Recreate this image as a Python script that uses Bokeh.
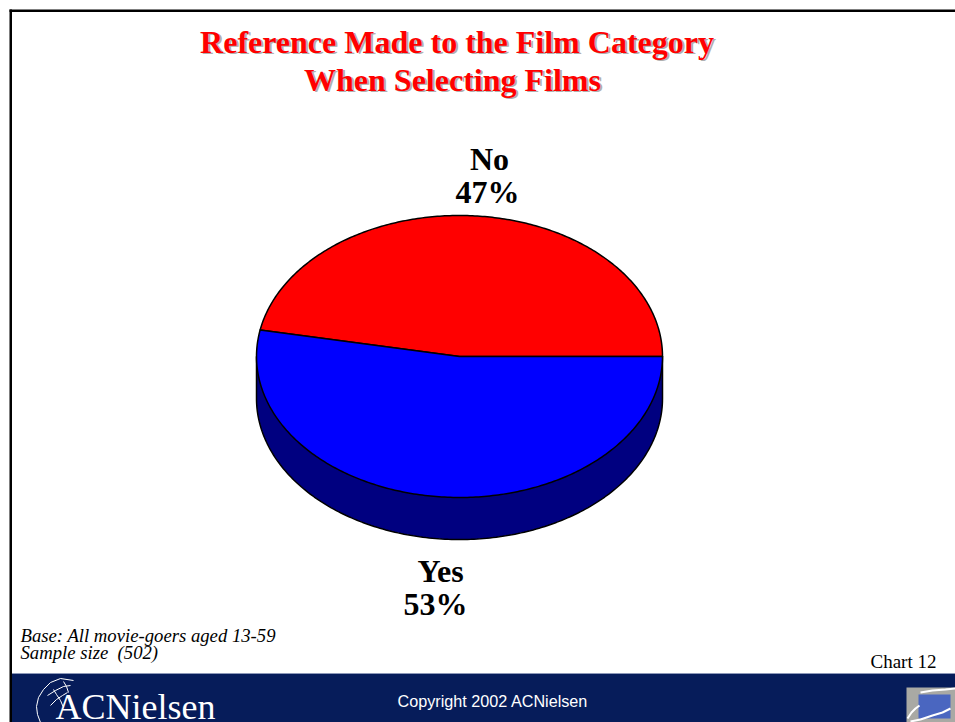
import numpy as np
from bokeh.plotting import figure
from bokeh.embed import file_html
from bokeh.resources import INLINE
from bokeh.core.properties import value

categories = ["No", "Yes"]
shares = [47, 53]
slice_colors = ["#ff0000", "#0000ff"]
wall_color = "#000080"
title_lines = ["Reference Made to the Film Category", "When Selecting Films"]
notes = ["Base: All movie-goers aged 13-59", "Sample size\u00a0 (502)"]
chart_tag = "Chart 12"
copyright_text = "Copyright 2002 ACNielsen"
logo_text = "ACNielsen"

W, H = 955, 722
p = figure(width=W, height=H, x_range=(0, 955), y_range=(722, 0),
           output_backend="svg", toolbar_location=None, min_border=0,
           outline_line_color=None, background_fill_color="white")
p.axis.visible = False
p.grid.visible = False

SERIF = value("Liberation Serif")
SANS = value("Liberation Sans")

def txt(x, y, s, size, color="black", font=SERIF, style="normal", align="left", base="alphabetic"):
    p.text([x], [y], text=[s], text_font=font, text_font_size=f"{size}px", text_font_style=style,
           text_color=color, text_align=align, text_baseline=base)

# page frame and footer band
p.quad(left=[9], right=[11.5], top=[9], bottom=[722], color="black", line_color=None)
p.quad(left=[9], right=[955], top=[9], bottom=[11.5], color="black", line_color=None)
p.quad(left=[11.5], right=[955], top=[673], bottom=[722], color="#061c5a", line_color=None)
p.line([11.5, 955], [673, 673], line_color="#8c98b8", line_width=1)

# title
for s, x0, y in zip(title_lines, [456.5, 452], [41, 79]):
    txt(x0 + 2, y + 1.5, s, 32, color="#b0b0b0", style="bold", align="center")
    txt(x0, y, s, 32, color="#ff0000", style="bold", align="center")

# pie
cx, cy, rx, ry, depth = 459, 356, 203, 141, 42
fractions = np.array(shares) / sum(shares)
edges = np.concatenate([[0], np.cumsum(fractions)]) * 2 * np.pi

t = np.linspace(np.pi, 2 * np.pi, 200)
wx = cx + rx * np.cos(t)
wy = cy - ry * np.sin(t) + depth
wall_x = np.concatenate([[cx - rx], wx, [cx + rx]])
wall_y = np.concatenate([[cy], wy, [cy]])
p.patch(wall_x, wall_y, fill_color=wall_color, line_color="black", line_width=1.5)

for i, cat in enumerate(categories):
    t = np.linspace(edges[i], edges[i + 1], 240)
    x = np.concatenate([[cx], cx + rx * np.cos(t), [cx]])
    y = np.concatenate([[cy], cy - ry * np.sin(t), [cy]])
    p.patch(x, y, fill_color=slice_colors[i], line_color="black", line_width=1.5, line_join="round")

# slice labels
label_pos = [(489, 158, 487, 191), (440, 570, 435, 603)]
for cat, share, (lx, y1, px, y2) in zip(categories, shares, label_pos):
    txt(lx, y1, cat, 32, style="bold", align="center")
    txt(px, y2, f"{share}%", 32, style="bold", align="center")

# notes
txt(20, 635, notes[0], 18.7, style="italic")
txt(20, 652, notes[1], 18.7, style="italic")
txt(870, 661, chart_tag, 19)
txt(397, 700, copyright_text, 16.2, color="white", font=SANS)

# logo
txt(55, 706, logo_text, 36, color="white")
globe_lines = [
    ([73, 60, 50, 43, 38, 36, 37, 40], [680, 678, 682, 689, 697, 706, 714, 722]),
    ([47, 55, 63, 70], [695, 690, 686, 685]),
    ([50, 56, 62, 67], [705, 699, 695, 692]),
    ([53, 56, 60, 63], [689, 694, 700, 707]),
    ([63, 66, 68], [681, 686, 692]),
]
for gx, gy in globe_lines:
    p.line(gx, gy, line_color="white", line_width=1)

# corner picture
p.quad(left=[906], right=[955], top=[687], bottom=[722], color="#a9a9a4", line_color=None)
p.quad(left=[918], right=[950], top=[694], bottom=[718], color="#4a66c0", line_color=None)
swooshes = [
    ([907, 911, 915, 919], [718, 712, 708, 705]),
    ([910, 920, 932, 942, 950], [721, 719, 715, 712, 708]),
    ([920, 932, 945, 955], [692, 690, 689, 688]),
]
for sx, sy in swooshes:
    p.line(sx, sy, line_color="white", line_width=2)

open("out.html", "w").write(file_html(p, INLINE))
